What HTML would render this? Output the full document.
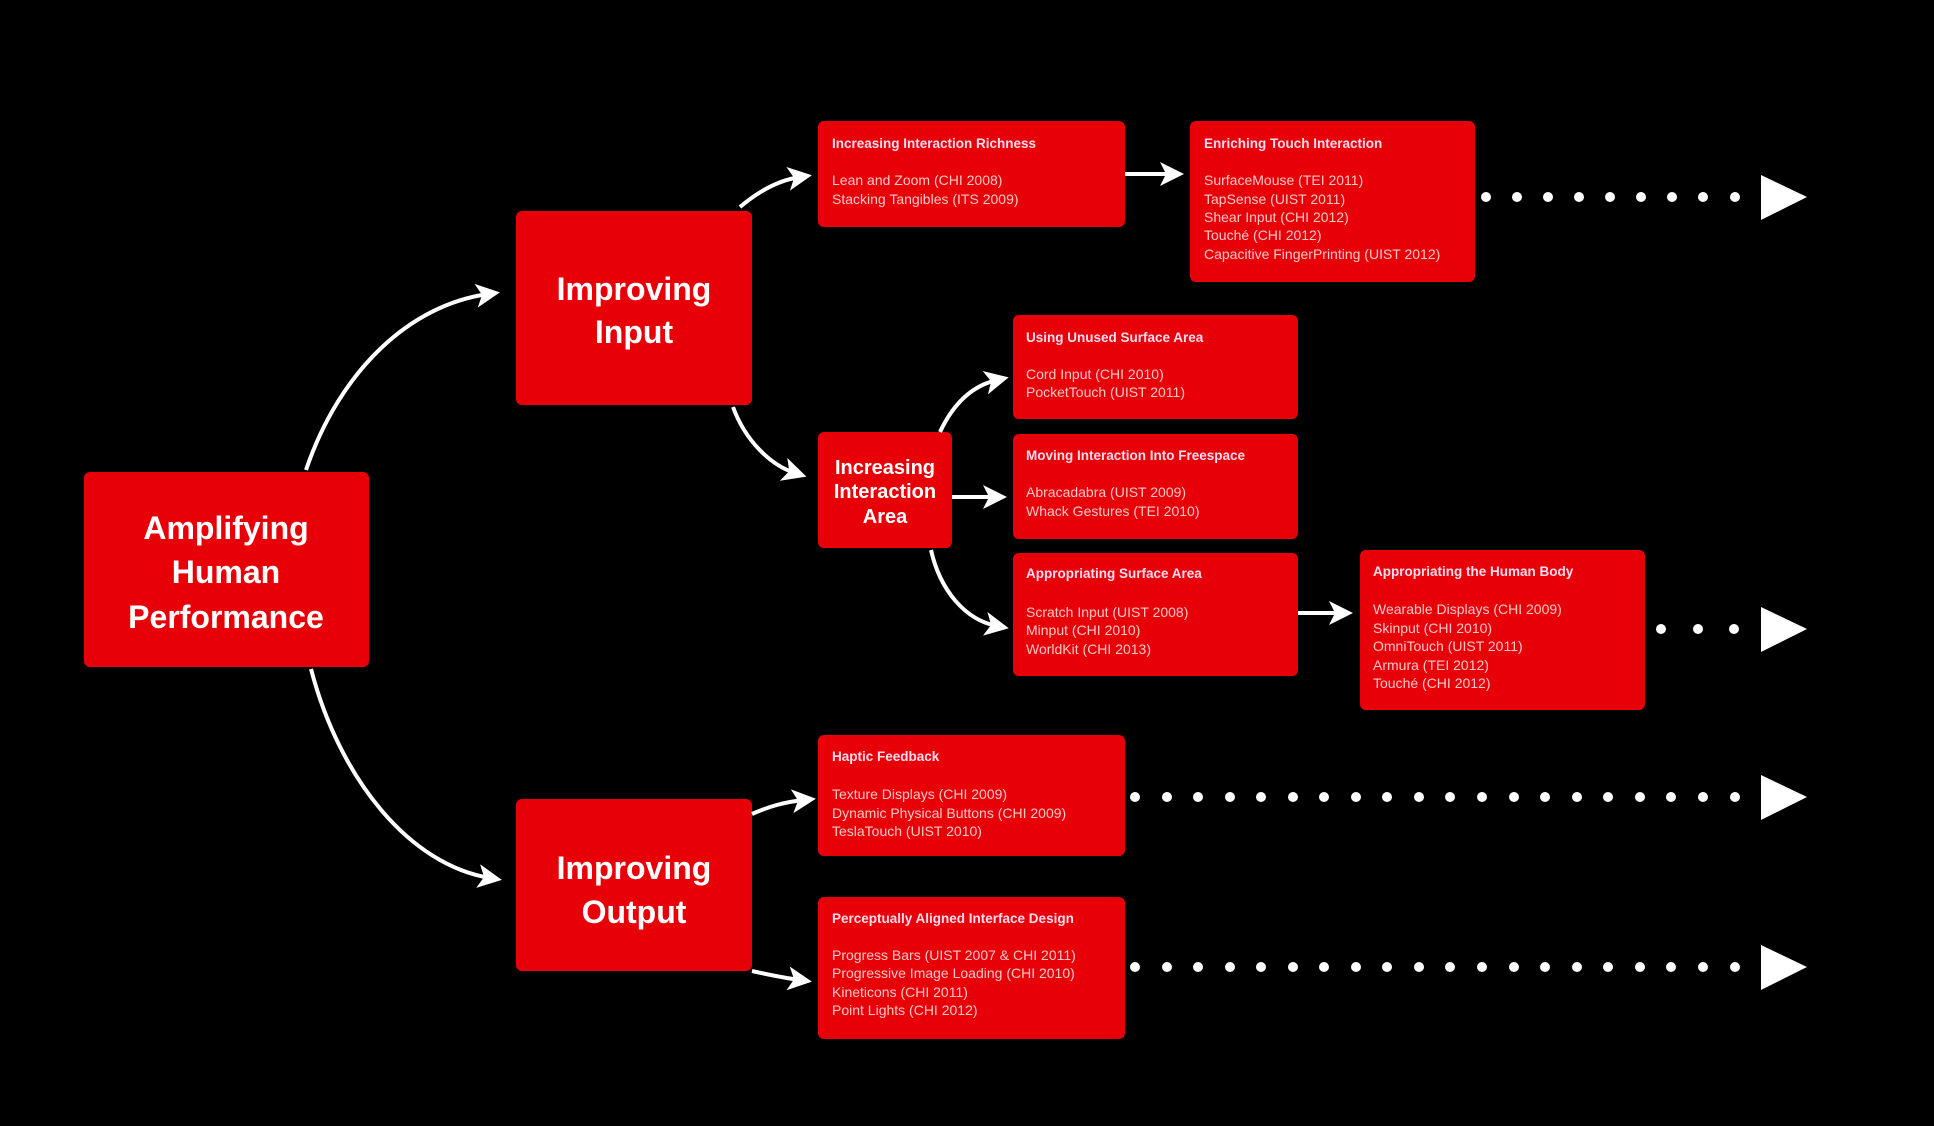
<!DOCTYPE html>
<html><head><meta charset="utf-8"><style>
html,body{margin:0;padding:0;background:#000;}
svg{display:block}
.b{fill:#e80008}
.m{font-family:"Liberation Sans",sans-serif;font-weight:bold;fill:#fff;text-anchor:middle}
.t{font-family:"Liberation Sans",sans-serif;font-weight:bold;fill:#fde;font-size:13.5px}
.i{font-family:"Liberation Sans",sans-serif;fill:#f8c8c8;font-size:14px}
.c{fill:none;stroke:#fff;stroke-width:4}
.d{fill:#fff}
</style></head><body>
<svg width="1934" height="1126" viewBox="0 0 1934 1126">
<defs><marker id="a" markerWidth="6" markerHeight="6" refX="3" refY="3" orient="auto" markerUnits="strokeWidth"><path d="M0,0 L6,3 L0,6 L1.5,3 z" fill="#fff"/></marker></defs>
<rect x="0" y="0" width="1934" height="1126" fill="#000"/>
<!-- boxes -->
<rect class="b" x="84" y="472" width="285" height="195" rx="6"/>
<rect class="b" x="516" y="211" width="236" height="194" rx="6"/>
<rect class="b" x="516" y="799" width="236" height="172" rx="6"/>
<rect class="b" x="818" y="121" width="307" height="106" rx="6"/>
<rect class="b" x="1190" y="121" width="285" height="161" rx="6"/>
<rect class="b" x="818" y="432" width="134" height="116" rx="6"/>
<rect class="b" x="1013" y="315" width="285" height="104" rx="6"/>
<rect class="b" x="1013" y="434" width="285" height="105" rx="6"/>
<rect class="b" x="1013" y="553" width="285" height="123" rx="6"/>
<rect class="b" x="1360" y="550" width="285" height="160" rx="6"/>
<rect class="b" x="818" y="735" width="307" height="121" rx="6"/>
<rect class="b" x="818" y="897" width="307" height="142" rx="6"/>
<!-- main text -->
<text class="m" font-size="32" x="226" y="539">Amplifying</text>
<text class="m" font-size="32" x="226" y="583">Human</text>
<text class="m" font-size="32" x="226" y="628">Performance</text>
<text class="m" font-size="32" x="634" y="300">Improving</text>
<text class="m" font-size="32" x="634" y="343">Input</text>
<text class="m" font-size="32" x="634" y="879">Improving</text>
<text class="m" font-size="32" x="634" y="923">Output</text>
<text class="m" font-size="20" x="885" y="474">Increasing</text>
<text class="m" font-size="20" x="885" y="498">Interaction</text>
<text class="m" font-size="20" x="885" y="523">Area</text>
<!-- small box text -->
<text class="t" x="832" y="148">Increasing Interaction Richness</text>
<text class="i" x="832" y="185">Lean and Zoom (CHI 2008)</text>
<text class="i" x="832" y="204">Stacking Tangibles (ITS 2009)</text>

<text class="t" x="1204" y="148">Enriching Touch Interaction</text>
<text class="i" x="1204" y="185">SurfaceMouse (TEI 2011)</text>
<text class="i" x="1204" y="204">TapSense (UIST 2011)</text>
<text class="i" x="1204" y="222">Shear Input (CHI 2012)</text>
<text class="i" x="1204" y="240">Touché (CHI 2012)</text>
<text class="i" x="1204" y="259">Capacitive FingerPrinting (UIST 2012)</text>

<text class="t" x="1026" y="342">Using Unused Surface Area</text>
<text class="i" x="1026" y="379">Cord Input (CHI 2010)</text>
<text class="i" x="1026" y="397">PocketTouch (UIST 2011)</text>

<text class="t" x="1026" y="460">Moving Interaction Into Freespace</text>
<text class="i" x="1026" y="497">Abracadabra (UIST 2009)</text>
<text class="i" x="1026" y="516">Whack Gestures (TEI 2010)</text>

<text class="t" x="1026" y="578">Appropriating Surface Area</text>
<text class="i" x="1026" y="617">Scratch Input (UIST 2008)</text>
<text class="i" x="1026" y="635">Minput (CHI 2010)</text>
<text class="i" x="1026" y="654">WorldKit (CHI 2013)</text>

<text class="t" x="1373" y="576">Appropriating the Human Body</text>
<text class="i" x="1373" y="614">Wearable Displays (CHI 2009)</text>
<text class="i" x="1373" y="633">Skinput (CHI 2010)</text>
<text class="i" x="1373" y="651">OmniTouch (UIST 2011)</text>
<text class="i" x="1373" y="670">Armura (TEI 2012)</text>
<text class="i" x="1373" y="688">Touché (CHI 2012)</text>

<text class="t" x="832" y="761">Haptic Feedback</text>
<text class="i" x="832" y="799">Texture Displays (CHI 2009)</text>
<text class="i" x="832" y="818">Dynamic Physical Buttons (CHI 2009)</text>
<text class="i" x="832" y="836">TeslaTouch (UIST 2010)</text>

<text class="t" x="832" y="923">Perceptually Aligned Interface Design</text>
<text class="i" x="832" y="960">Progress Bars (UIST 2007 &amp; CHI 2011)</text>
<text class="i" x="832" y="978">Progressive Image Loading (CHI 2010)</text>
<text class="i" x="832" y="997">Kineticons (CHI 2011)</text>
<text class="i" x="832" y="1015">Point Lights (CHI 2012)</text>
<!-- connectors -->
<path class="c" marker-end="url(#a)" d="M306,470 C340,370 410,305 488,294"/>
<path class="c" marker-end="url(#a)" d="M311,669 C340,780 410,865 490,878"/>
<path class="c" marker-end="url(#a)" d="M740,207 C760,190 780,180 800,177"/>
<path class="c" marker-end="url(#a)" d="M733,407 C745,440 770,465 795,473"/>
<path class="c" marker-end="url(#a)" d="M940,432 C955,400 975,385 997,380"/>
<path class="c" marker-end="url(#a)" d="M931,550 C940,590 965,620 997,626"/>
<path class="c" marker-end="url(#a)" d="M752,814 C770,806 785,802 804,800"/>
<path class="c" marker-end="url(#a)" d="M752,971 C770,975 785,978 800,980"/>
<path class="c" marker-end="url(#a)" d="M1125,174 L1172,174"/>
<path class="c" marker-end="url(#a)" d="M952,497 L995,497"/>
<path class="c" marker-end="url(#a)" d="M1298,613 L1341,613"/>
<!-- dotted tails -->
<g class="d">
<circle cx="1486" cy="197" r="5"/><circle cx="1517" cy="197" r="5"/><circle cx="1548" cy="197" r="5"/><circle cx="1579" cy="197" r="5"/><circle cx="1610" cy="197" r="5"/><circle cx="1641" cy="197" r="5"/><circle cx="1672" cy="197" r="5"/><circle cx="1703" cy="197" r="5"/><circle cx="1735" cy="197" r="5"/>
<polygon points="1761,175 1807,197 1761,220"/>
<circle cx="1661" cy="629" r="5"/><circle cx="1698" cy="629" r="5"/><circle cx="1734" cy="629" r="5"/>
<polygon points="1761,607 1807,629 1761,652"/>
<polygon points="1761,775 1807,797 1761,820"/>
<polygon points="1761,945 1807,967 1761,990"/>
</g>
<g class="d" id="r3"></g>
<g class="d">
<circle cx="1135" cy="797" r="5"/><circle cx="1167" cy="797" r="5"/><circle cx="1198" cy="797" r="5"/><circle cx="1230" cy="797" r="5"/><circle cx="1261" cy="797" r="5"/><circle cx="1293" cy="797" r="5"/><circle cx="1324" cy="797" r="5"/><circle cx="1356" cy="797" r="5"/><circle cx="1387" cy="797" r="5"/><circle cx="1419" cy="797" r="5"/><circle cx="1450" cy="797" r="5"/><circle cx="1482" cy="797" r="5"/><circle cx="1514" cy="797" r="5"/><circle cx="1545" cy="797" r="5"/><circle cx="1577" cy="797" r="5"/><circle cx="1608" cy="797" r="5"/><circle cx="1640" cy="797" r="5"/><circle cx="1671" cy="797" r="5"/><circle cx="1703" cy="797" r="5"/><circle cx="1735" cy="797" r="5"/>
<circle cx="1135" cy="967" r="5"/><circle cx="1167" cy="967" r="5"/><circle cx="1198" cy="967" r="5"/><circle cx="1230" cy="967" r="5"/><circle cx="1261" cy="967" r="5"/><circle cx="1293" cy="967" r="5"/><circle cx="1324" cy="967" r="5"/><circle cx="1356" cy="967" r="5"/><circle cx="1387" cy="967" r="5"/><circle cx="1419" cy="967" r="5"/><circle cx="1450" cy="967" r="5"/><circle cx="1482" cy="967" r="5"/><circle cx="1514" cy="967" r="5"/><circle cx="1545" cy="967" r="5"/><circle cx="1577" cy="967" r="5"/><circle cx="1608" cy="967" r="5"/><circle cx="1640" cy="967" r="5"/><circle cx="1671" cy="967" r="5"/><circle cx="1703" cy="967" r="5"/><circle cx="1735" cy="967" r="5"/>
</g>
</svg>
</body></html>
